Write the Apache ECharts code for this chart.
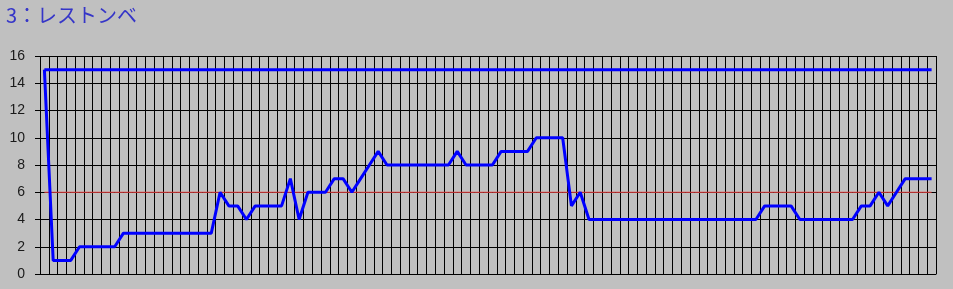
<!DOCTYPE html>
<html>
<head>
<meta charset="utf-8">
<script src="https://cdn.jsdelivr.net/npm/echarts@6/dist/echarts.min.js"></script>
<style>
html,body{margin:0;padding:0;background:#c0c0c0;}
#chart{width:953px;height:289px;}
</style>
</head>
<body>
<div id="chart"></div>
<script>
const titleText = '3：レストンベ';
const categories = [];
for (let i = 1; i <= 102; i++) categories.push(String(i));
const upperValues = [
15,15,15,15,15,15,15,15,15,15,
15,15,15,15,15,15,15,15,15,15,
15,15,15,15,15,15,15,15,15,15,
15,15,15,15,15,15,15,15,15,15,
15,15,15,15,15,15,15,15,15,15,
15,15,15,15,15,15,15,15,15,15,
15,15,15,15,15,15,15,15,15,15,
15,15,15,15,15,15,15,15,15,15,
15,15,15,15,15,15,15,15,15,15,
15,15,15,15,15,15,15,15,15,15,
15,15];
const mainValues = [
15,1,1,1,2,2,2,2,2,3,
3,3,3,3,3,3,3,3,3,3,
6,5,5,4,5,5,5,5,7,4,
6,6,6,7,7,6,7,8,9,8,
8,8,8,8,8,8,8,9,8,8,
8,8,9,9,9,9,10,10,10,10,
5,6,4,4,4,4,4,4,4,4,
4,4,4,4,4,4,4,4,4,4,
4,4,5,5,5,5,4,4,4,4,
4,4,4,5,5,6,5,6,7,7,
7,7];
const refValues = [
6,6,6,6,6,6,6,6,6,6,
6,6,6,6,6,6,6,6,6,6,
6,6,6,6,6,6,6,6,6,6,
6,6,6,6,6,6,6,6,6,6,
6,6,6,6,6,6,6,6,6,6,
6,6,6,6,6,6,6,6,6,6,
6,6,6,6,6,6,6,6,6,6,
6,6,6,6,6,6,6,6,6,6,
6,6,6,6,6,6,6,6,6,6,
6,6,6,6,6,6,6,6,6,6,
6,6];

const chart = echarts.init(document.getElementById('chart'), null, {renderer: 'canvas'});
chart.setOption({
  backgroundColor: '#c0c0c0',
  animation: false,
  title: {
    text: titleText,
    left: 6, top: 5, padding: 0,
    textStyle: {color: '#3535c8', fontSize: 20, fontWeight: 'normal', fontFamily: 'Noto Sans CJK JP'}
  },
  grid: {left: 40, right: 17, top: 56, bottom: 15, containLabel: false},
  xAxis: {
    type: 'category',
    data: categories,
    boundaryGap: true,
    axisLine: {show: true, lineStyle: {color: '#000', width: 1}},
    axisTick: {show: false},
    axisLabel: {show: false},
    splitLine: {show: true, interval: 0, lineStyle: {color: '#000', width: 1}}
  },
  yAxis: {
    type: 'value',
    min: 0, max: 16, interval: 2,
    axisLine: {show: false},
    axisTick: {show: true, length: 5, lineStyle: {color: '#000'}},
    axisLabel: {margin: 15, fontSize: 14, color: '#1a1a1a', fontFamily: 'Liberation Sans'},
    splitLine: {show: true, lineStyle: {color: '#000', width: 1}}
  },
  series: [
    {type: 'line', data: refValues, showSymbol: false, lineStyle: {color: '#f04040', width: 1}, itemStyle: {color: '#f04040'}, z: 2},
    {type: 'line', data: upperValues, showSymbol: false, lineStyle: {color: '#0000ff', width: 3}, itemStyle: {color: '#0000ff'}, z: 3},
    {type: 'line', data: mainValues, showSymbol: false, lineStyle: {color: '#0000ff', width: 3}, itemStyle: {color: '#0000ff'}, z: 3}
  ]
});
</script>
</body>
</html>
